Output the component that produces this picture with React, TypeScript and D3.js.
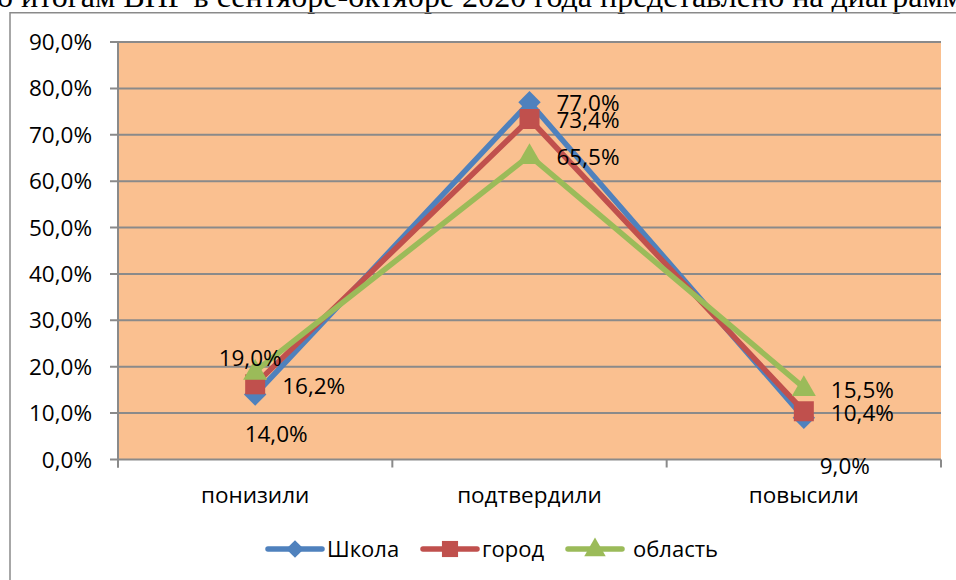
import React, { useEffect, useRef } from 'react'
import * as d3 from 'd3'

// categories and series (shares, 0..1)
const categories = ['понизили', 'подтвердили', 'повысили']
const seriesNames = ['Школа', 'город', 'область']
const school = [0.14, 0.77, 0.09]
const city = [0.162, 0.734, 0.104]
const region = [0.19, 0.655, 0.155]
const yTicks = [0, 0.1, 0.2, 0.3, 0.4, 0.5, 0.6, 0.7, 0.8, 0.9]

const W = 956, H = 580
const colors = ['#4F81BD', '#C0504D', '#9BBB59']
const symbols = [d3.symbolDiamond2, d3.symbolSquare, d3.symbolTriangle]
const font = '"Open Sans", sans-serif'

// where Excel put each data label, relative to its point (dx, dy, anchor)
const labelOffsets: [number, number, string][][] = [
  [[21, 39, 'middle'], [27, 1, 'start'], [41, 48, 'middle']],
  [[27, 2, 'start'], [27, 1, 'start'], [27, 2, 'start']],
  [[-5, -13, 'middle'], [27, 1, 'start'], [27, 2, 'start']],
]

function App() {
  const ref = useRef<SVGSVGElement>(null)

  useEffect(() => {
    const svg = d3.select(ref.current)
    svg.selectAll('*').remove()

    const locale = d3.formatLocale({ decimal: ',', thousands: ' ', grouping: [3], currency: ['', ''] })
    const fmt = locale.format('.1%')

    const left = 118, right = 941, top = 42, bottom = 459.5
    const x = d3.scaleBand().domain(categories).range([left, right]).paddingInner(0).paddingOuter(0)
    const y = d3.scaleLinear().domain([0, 0.9]).range([bottom, top])
    const cx = (c: string) => (x(c) as number) + x.bandwidth() / 2

    // text of the page above the chart, cut by the screenshot
    svg.append('text')
      .attr('x', -3).attr('y', 7)
      .attr('font-family', '"Liberation Serif", "Times New Roman", serif')
      .attr('font-size', 32)
      .attr('textLength', 966)
      .attr('lengthAdjust', 'spacingAndGlyphs')
      .text('о итогам ВПР в сентябре-октябре 2020 года представлено на диаграмм')

    // chart frame
    svg.append('path')
      .attr('d', `M10,${H + 5}V12.7H${W + 5}`)
      .attr('fill', 'none')
      .attr('stroke', '#8a8a8a')
      .attr('stroke-width', 1.5)

    // plot area
    svg.append('rect')
      .attr('x', left).attr('y', top)
      .attr('width', right - left).attr('height', bottom - top)
      .attr('fill', '#FAC090')

    // grid lines + y labels
    const grid = svg.append('g')
    grid.selectAll('line')
      .data(yTicks)
      .enter()
      .append('line')
      .attr('x1', left - 8).attr('x2', right)
      .attr('y1', d => y(d)).attr('y2', d => y(d))
      .attr('stroke', '#8a8a8a')
      .attr('stroke-width', 2)

    grid.selectAll('text')
      .data(yTicks)
      .enter()
      .append('text')
      .attr('x', 92)
      .attr('y', d => y(d))
      .attr('dy', '0.36em')
      .attr('text-anchor', 'end')
      .attr('font-family', font)
      .attr('font-size', 22.5)
      .text(d => fmt(d))

    // axes lines and category ticks
    svg.append('line')
      .attr('x1', left).attr('x2', left)
      .attr('y1', top).attr('y2', bottom + 8)
      .attr('stroke', '#8a8a8a').attr('stroke-width', 2)

    const tickX = [...categories.map(c => x(c) as number), right]
    svg.append('g').selectAll('line')
      .data(tickX)
      .enter()
      .append('line')
      .attr('x1', d => d).attr('x2', d => d)
      .attr('y1', bottom).attr('y2', bottom + 8)
      .attr('stroke', '#8a8a8a').attr('stroke-width', 2)

    svg.append('g').selectAll('text')
      .data(categories)
      .enter()
      .append('text')
      .attr('x', d => cx(d))
      .attr('y', 495)
      .attr('dy', '0.36em')
      .attr('text-anchor', 'middle')
      .attr('font-family', font)
      .attr('font-size', 22.5)
      .text(d => d)

    const line = d3.line<number>()
      .x((d, i) => cx(categories[i]))
      .y(d => y(d))

    const allSeries = [school, city, region]

    allSeries.forEach((values, s) => {
      const g = svg.append('g')
      g.append('path')
        .datum(values)
        .attr('d', line)
        .attr('fill', 'none')
        .attr('stroke', colors[s])
        .attr('stroke-width', 5.5)
        .attr('stroke-linejoin', 'round')

      g.selectAll('path.marker')
        .data(values)
        .enter()
        .append('path')
        .attr('class', 'marker')
        .attr('d', d3.symbol(symbols[s], s === 2 ? 250 : s === 0 ? 320 : 400)())
        .attr('transform', (d, i) => `translate(${cx(categories[i])},${y(d) + (s === 2 ? 1.5 : 0)})`)
        .attr('fill', colors[s])
    })

    // data labels on top
    allSeries.forEach((values, s) => {
      svg.append('g').selectAll('text')
        .data(values)
        .enter()
        .append('text')
        .attr('x', (d, i) => cx(categories[i]) + labelOffsets[s][i][0])
        .attr('y', (d, i) => y(d) + labelOffsets[s][i][1])
        .attr('dy', '0.36em')
        .attr('text-anchor', (d, i) => labelOffsets[s][i][2])
        .attr('font-family', font)
        .attr('font-size', 22.5)
        .text(d => fmt(d))
    })

    // legend
    const legendX = [268, 423, 568]
    seriesNames.forEach((name, s) => {
      const g = svg.append('g').attr('transform', `translate(${legendX[s]},549)`)
      g.append('line')
        .attr('x1', 0).attr('x2', 54)
        .attr('stroke', colors[s]).attr('stroke-width', 5.5)
        .attr('stroke-linecap', 'round')
      g.append('path')
        .attr('d', d3.symbol(symbols[s], s === 2 ? 200 : s === 0 ? 200 : 260)())
        .attr('transform', `translate(27,${s === 2 ? 1 : 0})`)
        .attr('fill', colors[s])
      g.append('text')
        .attr('x', s === 2 ? 65 : 59)
        .attr('dy', '0.36em')
        .attr('font-family', font)
        .attr('font-size', 22)
        .text(name)
    })
  }, [])

  return (
    <svg ref={ref} width={W} height={H}
      style={{ position: 'fixed', left: 0, top: 0, background: '#fff' }} />
  )
}

export default App
